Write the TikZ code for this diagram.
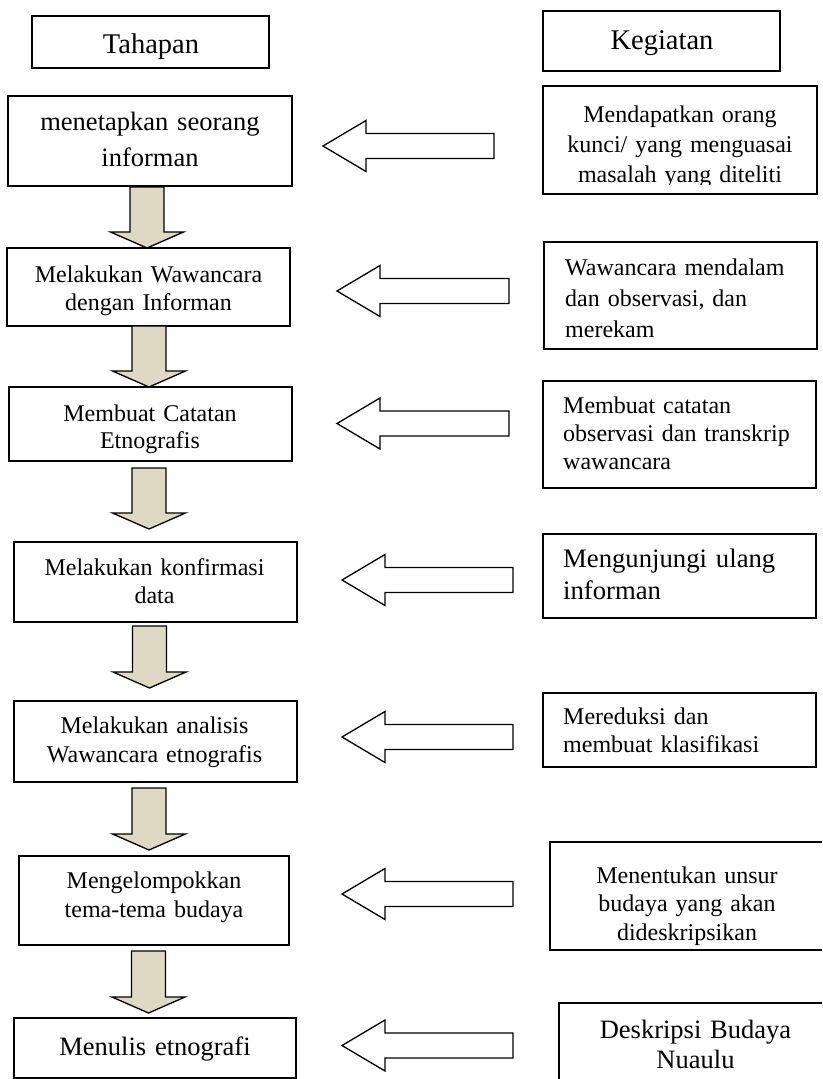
\documentclass[tikz,border=0pt]{standalone}
\usepackage{fontspec}
\setmainfont{Liberation Serif}
\usetikzlibrary{calc}
\definecolor{arrowtan}{HTML}{DDD9C3}

% block arrow pointing down, from shaft top (#1) to tip (#2)
\newcommand\tahapArrow[2]{%
  \draw[tahaparrow] let \p1=(#1), \p2=(#2) in
    (\x1-17pt,\y1) -- (\x1+17pt,\y1) -- (\x1+17pt,\y2+16pt) -- (\x1+36.5pt,\y2+16pt)
    -- (\x1,\y2) -- (\x1-36.5pt,\y2+16pt) -- (\x1-17pt,\y2+16pt) -- cycle;}
% hollow block arrow pointing left, from tail (#1) to tip (#2)
\newcommand\kegArrow[2]{%
  \draw[kegarrow] let \p1=(#1), \p2=(#2) in
    (\x1,\y1+12.5pt) -- (\x2+43pt,\y1+12.5pt) -- (\x2+43pt,\y1+25.5pt)
    -- (\x2,\y1) -- (\x2+43pt,\y1-25.5pt) -- (\x2+43pt,\y1-12.5pt)
    -- (\x1,\y1-12.5pt) -- cycle;}

\begin{document}
\begin{tikzpicture}[x=1pt,y=-1pt,
  box/.style={draw=black,line width=1.6pt,inner sep=0pt},
  ctxt/.style={inner sep=0pt,text width=#1,align=center,anchor=base},
  ctxt/.default=270pt,
  ltxt/.style={inner sep=0pt,text width=#1,align=left,anchor=base west},
  ltxt/.default=245pt,
  tahaparrow/.style={draw=black,line width=1.3pt,fill=arrowtan,line join=miter},
  kegarrow/.style={draw=black,line width=1.3pt,fill=white,line join=miter},
  fsmall/.style={font=\fontsize{24}{#1}\selectfont},
  fmid/.style={font=\fontsize{26.5}{#1}\selectfont},
]
\fill[white] (0,0) rectangle (822,1079);
\clip (0,0) rectangle (822,1079);

% column headings
\node[box,minimum width=237pt,minimum height=52pt] (h1) at (150.5,42) {};
\node[ctxt=230pt,font=\fontsize{28.5}{34}\selectfont] (h1t) at (151,53) {Tahapan};
\node[box,minimum width=237pt,minimum height=60pt] (h2) at (661.5,41) {};
\node[ctxt=230pt,font=\fontsize{28.5}{34}\selectfont] (h2t) at (662,49) {Kegiatan};

% stages (Tahapan)
\node[box,minimum width=284pt,minimum height=90pt] (t1) at (150,141) {};
\node[ctxt=280pt,fmid=36] (t1t) at (150,130) {menetapkan seorang\\informan};
\node[box,minimum width=283pt,minimum height=78pt] (t2) at (148.5,287) {};
\node[ctxt,fsmall=28] (t2t) at (148.5,282) {Melakukan Wawancara\\dengan Informan};
\node[box,minimum width=283pt,minimum height=74pt] (t3) at (150.5,424) {};
\node[ctxt,fsmall=27] (t3t) at (150,421) {Membuat Catatan\\Etnografis};
\node[box,minimum width=283pt,minimum height=80pt] (t4) at (155.5,582) {};
\node[ctxt,fsmall=28] (t4t) at (154.5,575) {Melakukan konfirmasi\\data};
\node[box,minimum width=283pt,minimum height=81pt] (t5) at (155.5,741.5) {};
\node[ctxt,fsmall=29] (t5t) at (154.5,733) {Melakukan analisis\\Wawancara etnografis};
\node[box,minimum width=270pt,minimum height=89pt] (t6) at (154,900.5) {};
\node[ctxt,fsmall=29] (t6t) at (154,888) {Mengelompokkan\\tema-tema budaya};
\node[box,minimum width=282pt,minimum height=60pt] (t7) at (155,1048) {};
\node[ctxt,fmid=30] (t7t) at (155,1055) {Menulis etnografi};

% activities (Kegiatan)
\node[box,minimum width=274pt,minimum height=108pt] (k1) at (680,140) {};
\begin{scope}
  \clip (543,86) rectangle (817,184);
  \node[ctxt,fsmall=30] (k1t) at (680,122) {Mendapatkan orang\\kunci/ yang menguasai\\masalah yang diteliti};
\end{scope}
\node[box,minimum width=273pt,minimum height=107pt] (k2) at (680.5,295.5) {};
\node[ltxt,fsmall=31] (k2t) at (565,275) {Wawancara mendalam\\dan observasi, dan\\merekam};
\node[box,minimum width=273pt,minimum height=107pt] (k3) at (679.5,434.5) {};
\node[ltxt,fsmall=28] (k3t) at (563,413) {Membuat catatan\\observasi dan transkrip\\wawancara};
\node[box,minimum width=273pt,minimum height=84pt] (k4) at (679.5,576) {};
\node[ltxt,font=\fontsize{26.7}{32}\selectfont] (k4t) at (563,567) {Mengunjungi ulang\\informan};
\node[box,minimum width=273pt,minimum height=74pt] (k5) at (679.5,730) {};
\node[ltxt,fsmall=28] (k5t) at (563,724) {Mereduksi dan\\membuat klasifikasi};
\node[box,minimum width=275pt,minimum height=108pt] (k6) at (687.5,896) {};
\node[ctxt,fsmall=28.5] (k6t) at (687,883) {Menentukan unsur\\budaya yang akan\\dideskripsikan};
\node[box,minimum width=273pt,minimum height=97pt] (k7) at (695.5,1051.5) {};
\node[ctxt,fmid=30] (k7t) at (695.5,1038) {Deskripsi Budaya\\Nuaulu};

% downward flow between stages
\coordinate (d1a) at (147,187);   \coordinate (d1b) at (147,248);
\coordinate (d2a) at (149,326);   \coordinate (d2b) at (149,387);
\coordinate (d3a) at (149,468);   \coordinate (d3b) at (149,529);
\coordinate (d4a) at (149.5,626); \coordinate (d4b) at (149.5,688);
\coordinate (d5a) at (149,788);   \coordinate (d5b) at (149,850);
\coordinate (d6a) at (148.5,951); \coordinate (d6b) at (148.5,1013);
\tahapArrow{d1a}{d1b}
\tahapArrow{d2a}{d2b}
\tahapArrow{d3a}{d3b}
\tahapArrow{d4a}{d4b}
\tahapArrow{d5a}{d5b}
\tahapArrow{d6a}{d6b}

% activities feeding each stage
\coordinate (l1a) at (494,146);    \coordinate (l1b) at (323,146);
\coordinate (l2a) at (509,291);    \coordinate (l2b) at (337,291);
\coordinate (l3a) at (509,423.5);  \coordinate (l3b) at (337,423.5);
\coordinate (l4a) at (513,580);    \coordinate (l4b) at (342,580);
\coordinate (l5a) at (513,737);    \coordinate (l5b) at (342,737);
\coordinate (l6a) at (513,894);    \coordinate (l6b) at (342,894);
\coordinate (l7a) at (513,1045.5); \coordinate (l7b) at (342,1045.5);
\kegArrow{l1a}{l1b}
\kegArrow{l2a}{l2b}
\kegArrow{l3a}{l3b}
\kegArrow{l4a}{l4b}
\kegArrow{l5a}{l5b}
\kegArrow{l6a}{l6b}
\kegArrow{l7a}{l7b}
\end{tikzpicture}
\end{document}
